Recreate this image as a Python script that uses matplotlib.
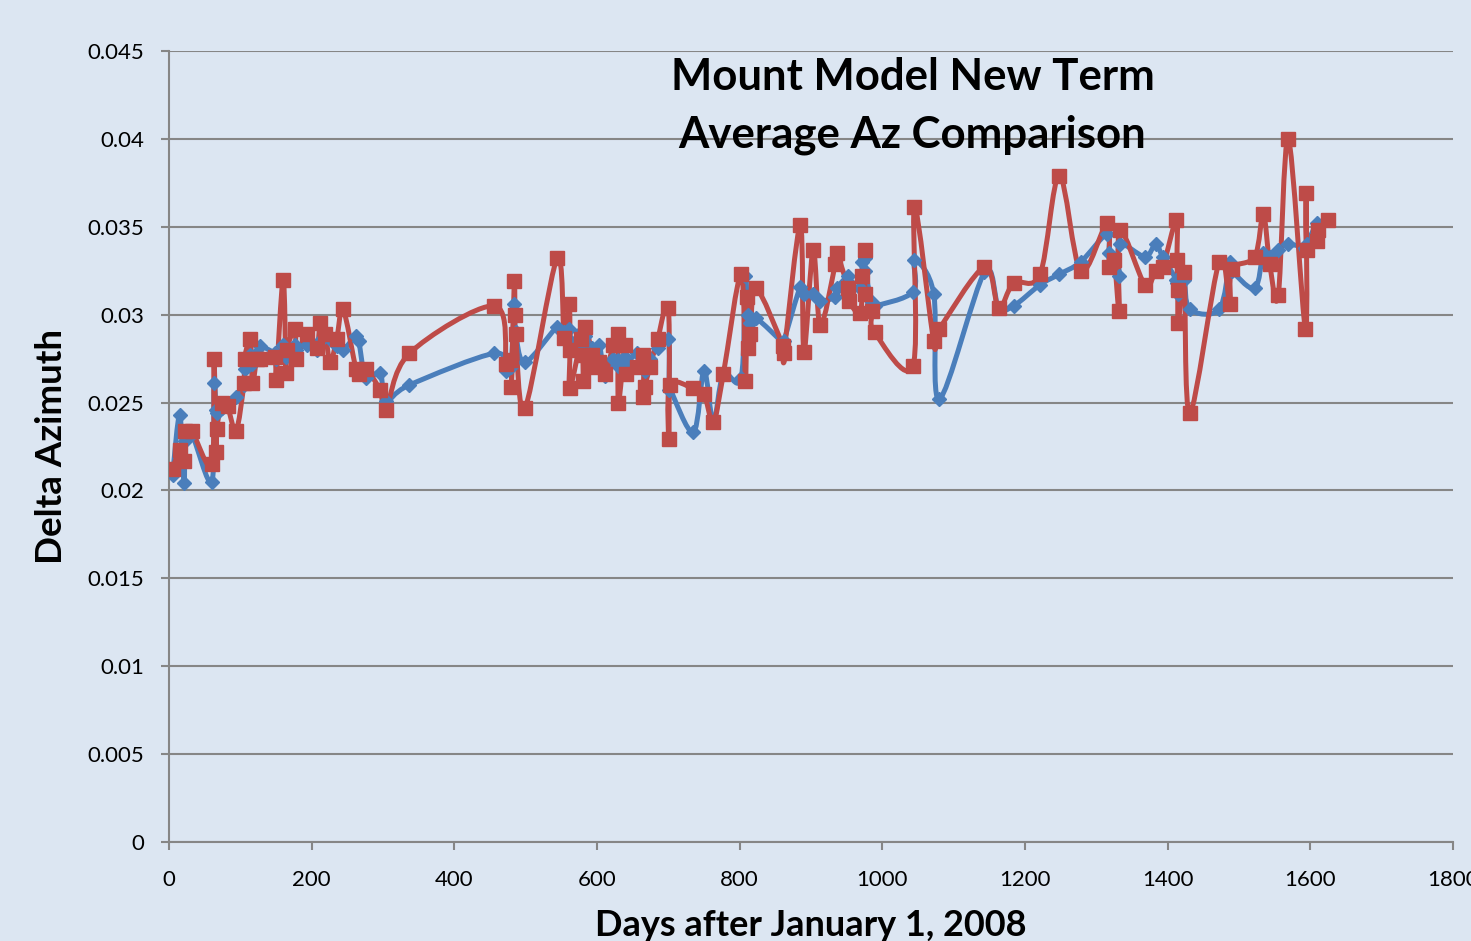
import numpy as np
import matplotlib.pyplot as plt
from matplotlib.path import Path
from matplotlib.patches import PathPatch

# days after Jan 1 2008, shared by both series
days = [5, 15, 21, 23, 32, 60, 63, 66, 67, 74, 82, 94, 105, 106, 114, 117, 123, 128,
        148, 150, 160, 164, 165, 177, 178, 193, 207, 212, 219, 226, 235, 244, 262, 266,
        276, 296, 304, 337, 456, 473, 480, 480, 484, 485, 486, 499, 544, 554, 561, 562,
        562, 578, 580, 581, 583, 593, 593, 603, 611, 623, 629, 630, 639, 640, 656, 665,
        665, 667, 674, 685, 700, 701, 702, 735, 750, 763, 777, 802, 808, 810, 812, 815,
        823, 861, 862, 885, 890, 903, 913, 934, 936, 952, 953, 969, 972, 975, 976, 985,
        989, 1043, 1045, 1072, 1080, 1143, 1163, 1184, 1221, 1248, 1278, 1315, 1318, 1325,
        1332, 1333, 1368, 1383, 1393, 1412, 1413, 1414, 1415, 1423, 1431, 1472, 1487, 1490,
        1522, 1534, 1543, 1555, 1569, 1593, 1594, 1595, 1609, 1610, 1624]

# old model (blue)
az_old = [0.0209, 0.0243, 0.0204, 0.0228, 0.0232, 0.0205, 0.0261, 0.0246, 0.0244, 0.0247,
          0.0249, 0.0253, 0.0260, 0.0269, 0.0277, 0.0272, 0.0278, 0.0282, 0.0278, 0.0275,
          0.0283, 0.0276, 0.0280, 0.0283, 0.0280, 0.0283, 0.0280, 0.0285, 0.0289, 0.0286,
          0.0282, 0.0280, 0.0288, 0.0285, 0.0264, 0.0267, 0.0251, 0.0260, 0.0278, 0.0268,
          0.0271, 0.0270, 0.0306, 0.0300, 0.0290, 0.0273, 0.0293, 0.0290, 0.0292, 0.0285,
          0.0283, 0.0290, 0.0285, 0.0283, 0.0288, 0.0281, 0.0278, 0.0283, 0.0265, 0.0275,
          0.0274, 0.0271, 0.0276, 0.0272, 0.0278, 0.0276, 0.0270, 0.0268, 0.0275, 0.0281,
          0.0286, 0.0257, 0.0258, 0.0233, 0.0268, 0.0239, 0.0266, 0.0264, 0.0322, 0.0310,
          0.0300, 0.0295, 0.0298, 0.0284, 0.0285, 0.0316, 0.0312, 0.0312, 0.0308, 0.0310,
          0.0315, 0.0322, 0.0318, 0.0315, 0.0330, 0.0332, 0.0325, 0.0307, 0.0305, 0.0313,
          0.0331, 0.0312, 0.0252, 0.0324, 0.0304, 0.0305, 0.0317, 0.0323, 0.0330, 0.0346,
          0.0335, 0.0330, 0.0322, 0.0340, 0.0333, 0.0340, 0.0333, 0.0320, 0.0318, 0.0315,
          0.0312, 0.0320, 0.0303, 0.0303, 0.0330, 0.0325, 0.0315, 0.0335, 0.0333, 0.0337,
          0.0340, 0.0338, 0.0337, 0.0340, 0.0352, 0.0348, 0.0354]

# new term (red)
az_new = [0.0212, 0.0223, 0.0217, 0.0234, 0.0234, 0.0215, 0.0275, 0.0222, 0.0235, 0.0250,
          0.0248, 0.0234, 0.0261, 0.0275, 0.0286, 0.0261, 0.0275, 0.0275, 0.0276, 0.0263,
          0.0320, 0.0267, 0.0280, 0.0292, 0.0275, 0.0289, 0.0281, 0.0295, 0.0289, 0.0273,
          0.0286, 0.0303, 0.0269, 0.0266, 0.0269, 0.0257, 0.0246, 0.0278, 0.0305, 0.0272,
          0.0274, 0.0259, 0.0319, 0.0300, 0.0289, 0.0247, 0.0332, 0.0287, 0.0306, 0.0280,
          0.0258, 0.0286, 0.0277, 0.0262, 0.0293, 0.0277, 0.0270, 0.0273, 0.0266, 0.0283,
          0.0289, 0.0250, 0.0283, 0.0266, 0.0270, 0.0277, 0.0253, 0.0259, 0.0270, 0.0286,
          0.0304, 0.0229, 0.0260, 0.0258, 0.0255, 0.0239, 0.0266, 0.0323, 0.0262, 0.0310,
          0.0281, 0.0289, 0.0315, 0.0282, 0.0278, 0.0351, 0.0279, 0.0337, 0.0294, 0.0329,
          0.0335, 0.0315, 0.0308, 0.0301, 0.0322, 0.0337, 0.0312, 0.0302, 0.0290, 0.0271,
          0.0361, 0.0285, 0.0292, 0.0327, 0.0304, 0.0318, 0.0323, 0.0379, 0.0325, 0.0352,
          0.0327, 0.0331, 0.0302, 0.0348, 0.0317, 0.0325, 0.0327, 0.0354, 0.0331, 0.0314,
          0.0295, 0.0324, 0.0244, 0.0330, 0.0306, 0.0326, 0.0333, 0.0357, 0.0329, 0.0311,
          0.0400, 0.0292, 0.0369, 0.0337, 0.0342, 0.0348, 0.0354]

BG = '#dce6f2'
BLUE = '#4a7ebb'
RED = '#be4b48'


# smoothed line like Excel's "smoothed line" option (bezier through the points)
def smooth_path(x, y):
    pts = np.column_stack([x, y]).astype(float)
    n = len(pts)
    verts = [pts[0]]
    codes = [Path.MOVETO]
    for i in range(n - 1):
        p0 = pts[i - 1] if i > 0 else pts[i]
        p1 = pts[i]
        p2 = pts[i + 1]
        p3 = pts[i + 2] if i + 2 < n else pts[i + 1]
        c1 = p1 + (p2 - p0) / 6.0
        c2 = p2 - (p3 - p1) / 6.0
        verts += [c1, c2, p2]
        codes += [Path.CURVE4] * 3
    return Path(verts, codes)


plt.rcParams['font.family'] = ['Lato', 'DejaVu Sans']

fig = plt.figure(figsize=(14.71, 9.41), dpi=100, facecolor=BG)
ax = fig.add_axes([0.1149, 0.1052, 0.8729, 0.8406], facecolor=BG)

for yy, col, mk, ms in [(az_old, BLUE, 'D', 7.5), (az_new, RED, 's', 9.5)]:
    ax.add_patch(PathPatch(smooth_path(days, yy), facecolor='none', edgecolor=col,
                           lw=3.6, zorder=3, capstyle='round', joinstyle='round'))
    ax.plot(days, yy, linestyle='none', marker=mk, ms=ms, color=col, zorder=4)

ax.set_xlim(0, 1800)
ax.set_ylim(0, 0.045)
ax.set_xticks(np.arange(0, 1801, 200))
ax.set_yticks(np.arange(0, 0.0451, 0.005))
ax.set_yticklabels(['0', '0.005', '0.01', '0.015', '0.02', '0.025', '0.03', '0.035',
                    '0.04', '0.045'])
ax.grid(axis='y', color='#868686', lw=1.5, zorder=0)
ax.set_axisbelow(True)
for s in ['top', 'right']:
    ax.spines[s].set_visible(False)
for s in ['left', 'bottom']:
    ax.spines[s].set_color('#868686')
    ax.spines[s].set_linewidth(1.5)
ax.tick_params(axis='both', colors='#868686', labelcolor='black', labelsize=16,
               length=6, width=1.5)
ax.tick_params(axis='x', pad=14)
ax.tick_params(axis='y', pad=12)

ax.set_ylabel('Delta Azimuth', fontsize=26.5, fontweight='bold', labelpad=14)
ax.set_xlabel('Days after January 1, 2008', fontsize=26, fontweight='bold', labelpad=14)

ax.text(0.579, 0.993, 'Mount Model New Term\nAverage Az Comparison', transform=ax.transAxes,
        ha='center', va='top', fontsize=31.5, fontweight='bold', linespacing=1.55, zorder=5)

fig.savefig('out.png', dpi=100, facecolor=BG)
